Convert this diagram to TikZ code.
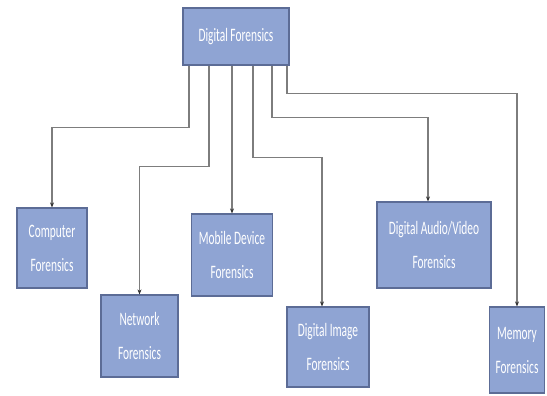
\documentclass[tikz,border=0pt]{standalone}
\usepackage{fontspec}
\usetikzlibrary{arrows.meta}
\newfontfamily\boxfont[FakeStretch=0.6]{Carlito}
\definecolor{boxfill}{RGB}{143,164,211}
\definecolor{boxline}{RGB}{92,108,150}
\definecolor{linkgray}{RGB}{125,125,125}
\tikzset{
  fbox/.style={draw=boxline,fill=boxfill,line width=1.2pt,text=white,align=center,
    inner sep=0pt,font=\boxfont\fontsize{19}{34}\selectfont},
  link/.style={draw=linkgray,line width=1.2pt,-{Stealth[length=5pt,width=4pt,color=black!80]}}
}

\begin{document}
\begin{tikzpicture}[x=1pt,y=-1pt]
   \useasboundingbox (0,0) rectangle (547,396);

   \node[fbox,minimum width=106pt,minimum height=57pt] (root) at (236,36.5) {Digital Forensics};

   \node[fbox,minimum width=70pt,minimum height=80pt] (comp) at (52,248) {Computer\\Forensics};
   \node[fbox,minimum width=77pt,minimum height=82pt] (net) at (139.5,336) {Network\\Forensics};
   \node[fbox,minimum width=81pt,minimum height=82pt] (mob) at (232,255) {Mobile Device\\Forensics};
   \node[fbox,minimum width=82pt,minimum height=80pt] (img) at (328,347) {Digital Image\\Forensics};
   \node[fbox,minimum width=114pt,minimum height=86pt] (av) at (434,245) {Digital Audio/Video\\Forensics};
   \node[fbox,minimum width=55pt,minimum height=86pt] (mem) at (517,350) {Memory\\Forensics};

   % links from the root box
   \draw[link] ([xshift=-47pt]root.south) |- ([yshift=80pt]comp.north) -- (comp.north);
   \draw[link] ([xshift=-27pt]root.south) |- ([yshift=128pt]net.north) -- (net.north);
   \draw[link] (root.south -| mob.north) -- (mob.north);
   \draw[link] ([xshift=17pt]root.south) |- ([xshift=-6pt,yshift=149pt]img.north) -- ([xshift=-6pt]img.north);
   \draw[link] ([xshift=36pt]root.south) |- ([xshift=-6pt,yshift=84pt]av.north) -- ([xshift=-6pt]av.north);
   \draw[link] ([xshift=51pt]root.south) |- ([yshift=213pt]mem.north) -- (mem.north);
\end{tikzpicture}
\end{document}
